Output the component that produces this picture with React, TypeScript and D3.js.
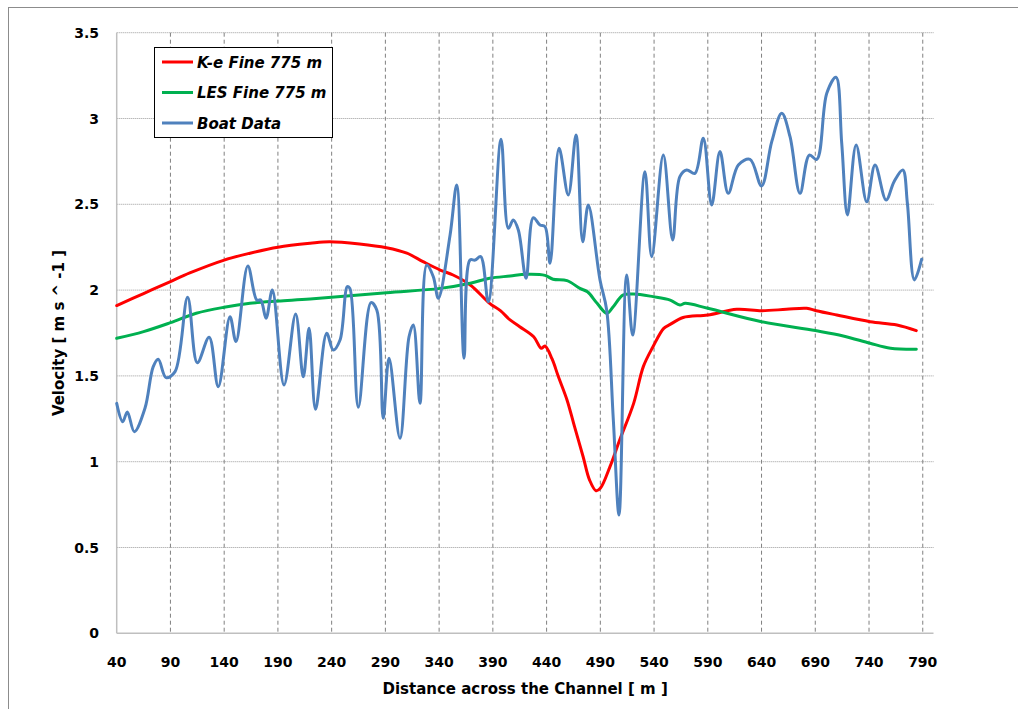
import React from "react";
import * as d3 from "d3";

const keDist = [40, 65, 90, 108, 140, 164, 190, 220, 238, 266, 291, 310, 325, 341, 353, 369, 387, 397, 406, 415, 428, 435, 438.5, 445, 451, 459, 466, 474, 480, 486, 490, 499, 508, 521, 530, 539, 549, 555, 567, 590, 617, 640, 663, 682, 691, 710, 741, 766, 784];
const keVel = [1.91, 1.98, 2.05, 2.1, 2.175, 2.215, 2.25, 2.273, 2.282, 2.269, 2.247, 2.215, 2.166, 2.117, 2.088, 2.03, 1.923, 1.88, 1.826, 1.787, 1.728, 1.661, 1.674, 1.6, 1.495, 1.36, 1.204, 1.029, 0.893, 0.831, 0.845, 0.971, 1.126, 1.34, 1.554, 1.67, 1.777, 1.8, 1.84, 1.855, 1.888, 1.88, 1.888, 1.894, 1.88, 1.855, 1.816, 1.797, 1.764];

const lesDist = [40, 65, 90, 114, 140, 164, 190, 220, 291, 341, 369, 387, 406, 421, 438.5, 446, 459, 471, 478, 487, 496, 502, 511, 521, 539, 555, 564, 569, 590, 640, 690, 716, 741, 760, 784];
const lesVel = [1.719, 1.758, 1.81, 1.865, 1.9, 1.923, 1.936, 1.948, 1.985, 2.01, 2.04, 2.069, 2.082, 2.092, 2.086, 2.063, 2.055, 2.01, 1.99, 1.923, 1.865, 1.903, 1.971, 1.977, 1.962, 1.942, 1.913, 1.923, 1.894, 1.816, 1.764, 1.733, 1.69, 1.661, 1.655];

const boatDist = [40, 45.6, 49.9, 56.4, 66.3, 74, 78.7, 85.9, 94.3, 106, 115, 126, 134.5, 145.4, 151, 162, 170.3, 174, 179, 184.8, 195.7, 206.5, 213.6, 219, 225, 235.4, 241.5, 247.8, 254.6, 257, 264.8, 276.6, 282, 288, 293.4, 303.6, 312, 316, 322.2, 328.5, 334.6, 339.3, 350.2, 356.4, 363.2, 368.7, 373.4, 378.7, 385.8, 397.6, 404.4, 409, 413.7, 420.9, 427.6, 433.9, 438.5, 443.2, 451.6, 460.2, 467.4, 473.6, 478.8, 489.7, 495.9, 502.1, 507.4, 514.5, 520.1, 531.5, 537.8, 548.6, 557.3, 564, 570.4, 578, 585.8, 593.6, 601.3, 609, 618.4, 629.3, 640, 649.5, 658.8, 666.5, 675.8, 684.5, 691.4, 700.7, 709.3, 714.6, 719.9, 728, 737.9, 745.6, 755.9, 763.3, 771.4, 775.7, 782.2, 789];
const boatVel = [1.34, 1.233, 1.29, 1.175, 1.311, 1.554, 1.597, 1.49, 1.525, 1.958, 1.577, 1.725, 1.437, 1.845, 1.7, 2.14, 1.942, 1.942, 1.836, 2.0, 1.447, 1.861, 1.495, 1.777, 1.305, 1.748, 1.651, 1.709, 2.02, 2.01, 1.317, 1.927, 1.884, 1.253, 1.603, 1.136, 1.728, 1.797, 1.34, 2.146, 2.078, 1.952, 2.321, 2.613, 1.603, 2.175, 2.175, 2.195, 1.932, 2.879, 2.36, 2.408, 2.35, 2.069, 2.422, 2.379, 2.37, 2.156, 2.826, 2.554, 2.904, 2.282, 2.496, 2.059, 1.884, 1.243, 0.689, 2.088, 1.738, 2.69, 2.195, 2.787, 2.292, 2.661, 2.7, 2.68, 2.885, 2.496, 2.807, 2.564, 2.729, 2.762, 2.607, 2.865, 3.03, 2.894, 2.564, 2.787, 2.762, 3.147, 3.24, 2.856, 2.438, 2.846, 2.515, 2.729, 2.525, 2.632, 2.7, 2.506, 2.059, 2.18];

const xTicks = [40, 90, 140, 190, 240, 290, 340, 390, 440, 490, 540, 590, 640, 690, 740, 790];
const yTicks = [0, 0.5, 1, 1.5, 2, 2.5, 3, 3.5];

const seriesNames = ["K-e Fine 775 m", "LES Fine 775 m", "Boat Data"];
const seriesColors = ["#FF0000", "#00B050", "#4F81BD"];

const FONT = "'DejaVu Sans', Verdana, sans-serif";

export default function App() {
  const W = 1018, H = 709;
  const left = 116.7, right = 933.5, top = 32.7, bottom = 633.3;
  const x = d3.scaleLinear().domain([40, 800]).range([left, right]);
  const y = d3.scaleLinear().domain([0, 3.5]).range([bottom, top]);

  const line = d3
    .line<[number, number]>()
    .x((d) => x(d[0]))
    .y((d) => y(d[1]))
    .curve(d3.curveCatmullRom.alpha(0.5));

  const zip = (a: number[], b: number[]) => a.map((v, i) => [v, b[i]] as [number, number]);
  const series = [zip(keDist, keVel), zip(lesDist, lesVel), zip(boatDist, boatVel)];

  return (
    <svg width={W} height={H} style={{ position: "absolute", left: 0, top: 0, background: "#fff" }} fontFamily={FONT}>
      <rect x={8.5} y={7.5} width={1200} height={900} fill="#fff" stroke="#8c8c8c" strokeWidth={1} />
      {/* horizontal gridlines */}
      {yTicks.filter((t) => t > 0).map((t) => (
        <line key={"h" + t} x1={left} x2={right} y1={y(t)} y2={y(t)} stroke="#9a9a9a" strokeWidth={1} strokeDasharray="1,1" />
      ))}
      {/* vertical gridlines */}
      {xTicks.filter((t) => t > 40).map((t) => (
        <line key={"v" + t} x1={x(t)} x2={x(t)} y1={top} y2={bottom} stroke="#808080" strokeWidth={1} strokeDasharray="4,3" />
      ))}
      {/* axes */}
      <line x1={left} x2={left} y1={top} y2={bottom} stroke="#bfbfbf" strokeWidth={1.5} />
      <line x1={left} x2={right} y1={bottom} y2={bottom} stroke="#bfbfbf" strokeWidth={1.5} />

      {/* series */}
      {series.map((s, i) => (
        <path key={i} d={line(s) || ""} fill="none" stroke={seriesColors[i]} strokeWidth={3} strokeLinejoin="round" strokeLinecap="round" />
      ))}

      {/* y tick labels */}
      {yTicks.map((t) => (
        <text key={"yl" + t} x={99} y={y(t) + 5} textAnchor="end" fontSize={14} fontWeight="bold" fill="#000">
          {String(t)}
        </text>
      ))}
      {/* x tick labels */}
      {xTicks.map((t) => (
        <text key={"xl" + t} x={x(t)} y={667} textAnchor="middle" fontSize={14} fontWeight="bold" fill="#000">
          {String(t)}
        </text>
      ))}
      {/* axis titles */}
      <text x={(left + right) / 2} y={694} textAnchor="middle" fontSize={15} fontWeight="bold" fill="#000">
        Distance across the Channel [ m ]
      </text>
      <text transform={`translate(64,${(top + bottom) / 2}) rotate(-90)`} textAnchor="middle" fontSize={15} fontWeight="bold" fill="#000">
        Velocity [ m s ^ -1 ]
      </text>

      {/* legend */}
      <rect x={154.5} y={47.5} width={178} height={90} fill="#fff" stroke="#000" strokeWidth={1} />
      {seriesNames.map((n, i) => (
        <g key={n}>
          <line x1={162} x2={193} y1={62 + i * 30.5} y2={62 + i * 30.5} stroke={seriesColors[i]} strokeWidth={3} />
          <text x={197} y={62 + i * 30.5 + 5.5} fontSize={15} fontWeight="bold" fontStyle="italic" fill="#000">
            {n}
          </text>
        </g>
      ))}
    </svg>
  );
}
